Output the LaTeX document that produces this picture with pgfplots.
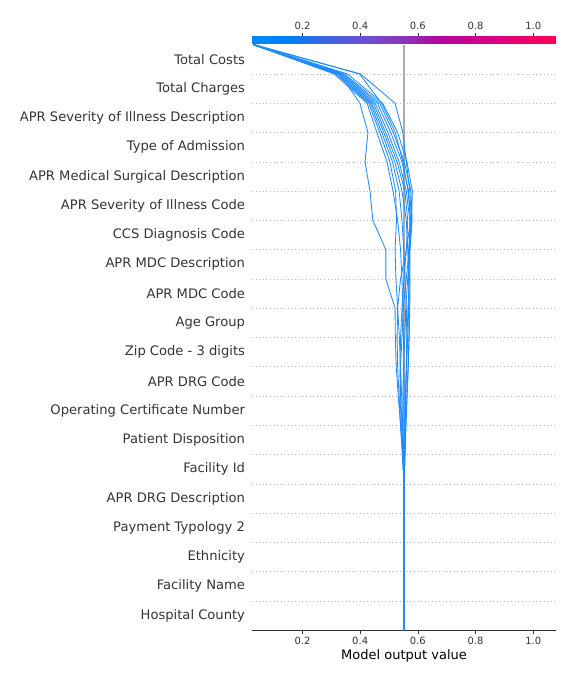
\documentclass[border=0pt]{standalone}
\usepackage{fontspec}
\setmainfont{DejaVu Sans}
\usepackage{pgfplots}
\pgfplotsset{compat=1.18}
\definecolor{lineblue}{RGB}{30,140,252}
\definecolor{txt}{HTML}{333333}
\definecolor{baseline}{HTML}{AAAAAA}
\pgfdeclarehorizontalshading{shapcmap}{100bp}{
  rgb(0bp)=(0,0.53,0.98);
  rgb(25bp)=(0,0.53,0.98);
  rgb(31bp)=(0,0.50,0.96);
  rgb(36bp)=(0.20,0.42,0.90);
  rgb(42.5bp)=(0.40,0.33,0.84);
  rgb(50bp)=(0.56,0.20,0.72);
  rgb(56bp)=(0.70,0.02,0.62);
  rgb(64bp)=(0.84,0.0,0.52);
  rgb(75bp)=(1.0,0.0,0.33);
  rgb(100bp)=(1.0,0.0,0.33)}
\pgfplotsset{dl/.style={draw=lineblue, line width=0.85pt, mark=none}}
\begin{document}
\begin{tikzpicture}
\path[use as bounding box] (0,0) rectangle (576pt,684pt);
% colour bar
\begin{axis}[
  at={(252pt,640pt)}, anchor=south west,
  scale only axis, width=304pt, height=7pt,
  xmin=0.025, xmax=1.079, ymin=0, ymax=1,
  axis x line*=top, x axis line style={draw=none},
  axis y line=none,
  xtick={0.2,0.4,0.6,0.8,1.0},
  xticklabels={0.2,0.4,0.6,0.8,1.0},
  tick align=outside, major tick length=3.5pt,
  xtick style={draw=txt, line width=0.6pt},
  xticklabel style={font=\fontsize{10}{12}\selectfont, text=txt},
  /pgf/number format/assume math mode=true,
]
\shade[shading=shapcmap] (axis cs:0.025,0) rectangle (axis cs:1.079,1);
\end{axis}
% main decision plot
\begin{axis}[
  at={(252pt,53.7pt)}, anchor=south west,
  scale only axis, width=304pt, height=585.6pt,
  xmin=0.025, xmax=1.079, ymin=0, ymax=20,
  axis x line*=bottom, axis y line*=left,
  y axis line style={draw=none},
  x axis line style={draw=txt, line width=0.8pt},
  xtick={0.2,0.4,0.6,0.8,1.0},
  xticklabels={0.2,0.4,0.6,0.8,1.0},
  tick align=outside, major tick length=3.5pt,
  xtick style={draw=txt, line width=0.6pt},
  ytick style={draw=none},
  xticklabel style={font=\fontsize{10}{12}\selectfont, text=txt},
  ytick={0.5,1.5,...,19.5},
  yticklabels={Hospital County,Facility Name,Ethnicity,Payment Typology 2,APR DRG Description,Facility Id,Patient Disposition,Operating Certificate Number,APR DRG Code,Zip Code - 3 digits,Age Group,APR MDC Code,APR MDC Description,CCS Diagnosis Code,APR Severity of Illness Code,APR Medical Surgical Description,Type of Admission,APR Severity of Illness Description,Total Charges,Total Costs},
  yticklabel style={font=\fontsize{13.1}{15}\selectfont, text=txt},
  extra y ticks={1,2,...,19},
  extra y tick labels={},
  extra y tick style={grid=major, major grid style={draw=gray!55, line width=0.6pt, dash pattern=on 0.6pt off 3pt}, tick style={draw=none}},
  xlabel={Model output value},
  xlabel style={font=\fontsize{13}{15}\selectfont, yshift=2pt},
  /pgf/number format/assume math mode=true,
  clip=false,
]
\addplot[draw=baseline, line width=2pt, mark=none] coordinates {(0.552,0) (0.552,20)};
% line 1
\addplot[dl] coordinates {(0.552,0)(0.552,1)(0.552,2)(0.552,3)(0.552,4)(0.552,5)(0.548,6)(0.540,7)(0.532,8)(0.525,9)(0.522,10)(0.521,11)(0.489,12)(0.489,13)(0.444,14)(0.434,15)(0.417,16)(0.427,17)(0.399,18)(0.330,19)(0.030,20)};
% line 2
\addplot[dl] coordinates {(0.552,0)(0.552,1)(0.552,2)(0.552,3)(0.552,4)(0.553,5)(0.556,6)(0.559,7)(0.563,8)(0.567,9)(0.570,10)(0.572,11)(0.573,12)(0.572,13)(0.578,14)(0.572,15)(0.560,16)(0.548,17)(0.521,18)(0.401,19)(0.034,20)};
% line 3
\addplot[dl] coordinates {(0.552,0)(0.552,1)(0.552,2)(0.552,3)(0.552,4)(0.552,5)(0.553,6)(0.555,7)(0.558,8)(0.561,9)(0.565,10)(0.568,11)(0.570,12)(0.568,13)(0.575,14)(0.566,15)(0.548,16)(0.522,17)(0.474,18)(0.398,19)(0.031,20)};
% line 4
\addplot[dl] coordinates {(0.552,0)(0.552,1)(0.552,2)(0.552,3)(0.552,4)(0.552,5)(0.553,6)(0.553,7)(0.553,8)(0.552,9)(0.550,10)(0.548,11)(0.545,12)(0.540,13)(0.530,14)(0.514,15)(0.493,16)(0.458,17)(0.424,18)(0.310,19)(0.029,20)};
% line 5
\addplot[dl] coordinates {(0.552,0)(0.552,1)(0.552,2)(0.552,3)(0.552,4)(0.551,5)(0.549,6)(0.547,7)(0.544,8)(0.540,9)(0.536,10)(0.530,11)(0.524,12)(0.521,13)(0.526,14)(0.523,15)(0.503,16)(0.468,17)(0.430,18)(0.316,19)(0.030,20)};
% line 6
\addplot[dl] coordinates {(0.552,0)(0.552,1)(0.552,2)(0.552,3)(0.552,4)(0.552,5)(0.554,6)(0.556,7)(0.558,8)(0.560,9)(0.562,10)(0.560,11)(0.556,12)(0.551,13)(0.545,14)(0.535,15)(0.512,16)(0.475,17)(0.435,18)(0.321,19)(0.031,20)};
% line 7
\addplot[dl] coordinates {(0.552,0)(0.552,1)(0.552,2)(0.552,3)(0.552,4)(0.552,5)(0.555,6)(0.558,7)(0.562,8)(0.566,9)(0.569,10)(0.570,11)(0.568,12)(0.565,13)(0.560,14)(0.545,15)(0.520,16)(0.482,17)(0.440,18)(0.326,19)(0.032,20)};
% line 8
\addplot[dl] coordinates {(0.552,0)(0.552,1)(0.552,2)(0.552,3)(0.552,4)(0.552,5)(0.549,6)(0.545,7)(0.540,8)(0.538,9)(0.540,10)(0.545,11)(0.552,12)(0.560,13)(0.565,14)(0.555,15)(0.528,16)(0.488,17)(0.446,18)(0.331,19)(0.033,20)};
% line 9
\addplot[dl] coordinates {(0.552,0)(0.552,1)(0.552,2)(0.552,3)(0.552,4)(0.552,5)(0.553,6)(0.555,7)(0.557,8)(0.560,9)(0.562,10)(0.566,11)(0.570,12)(0.571,13)(0.572,14)(0.560,15)(0.535,16)(0.496,17)(0.452,18)(0.336,19)(0.030,20)};
% line 10
\addplot[dl] coordinates {(0.552,0)(0.552,1)(0.552,2)(0.552,3)(0.552,4)(0.552,5)(0.546,6)(0.540,7)(0.535,8)(0.530,9)(0.528,10)(0.530,11)(0.540,12)(0.560,13)(0.575,14)(0.568,15)(0.545,16)(0.506,17)(0.460,18)(0.341,19)(0.028,20)};
% line 11
\addplot[dl] coordinates {(0.552,0)(0.552,1)(0.552,2)(0.552,3)(0.552,4)(0.552,5)(0.550,6)(0.548,7)(0.548,8)(0.550,9)(0.555,10)(0.558,11)(0.565,12)(0.573,13)(0.580,14)(0.576,15)(0.553,16)(0.515,17)(0.468,18)(0.346,19)(0.032,20)};
% line 12
\addplot[dl] coordinates {(0.552,0)(0.552,1)(0.552,2)(0.552,3)(0.552,4)(0.552,5)(0.548,6)(0.543,7)(0.538,8)(0.540,9)(0.545,10)(0.550,11)(0.560,12)(0.570,13)(0.578,14)(0.581,15)(0.562,16)(0.530,17)(0.478,18)(0.356,19)(0.035,20)};
\end{axis}
\end{tikzpicture}
\end{document}
